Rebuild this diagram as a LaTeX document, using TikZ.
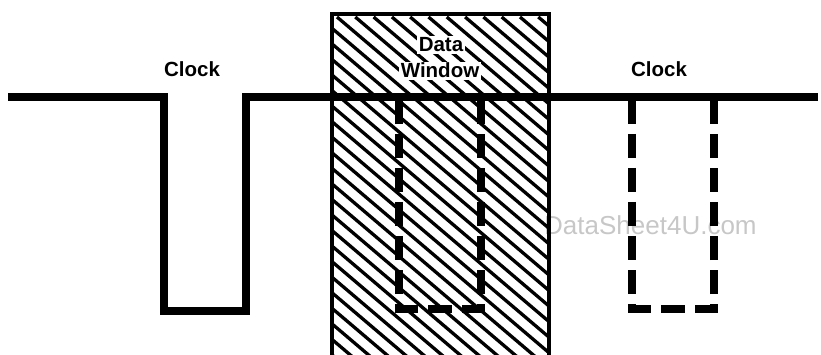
\documentclass[tikz,border=0pt]{standalone}
\usepackage{fontspec}
\setmainfont{Liberation Sans}

\tikzset{
    signal/.style={line width=8pt, line join=miter},
    ghost/.style={line width=8pt, dash pattern=on 24pt off 10pt, dash phase=31pt, line join=miter},
    hatch/.style={line width=3.3pt},
    label/.style={font=\fontsize{20.5}{23}\selectfont\bfseries, inner sep=1.5pt, anchor=base},
}

\begin{document}
\begin{tikzpicture}[x=1pt, y=-1pt]
        \useasboundingbox (0,0) rectangle (821,355);

        \node[text=black!22, font=\fontsize{26}{30}\selectfont, anchor=base west, inner sep=0pt] (wm) at (544,235) {DataSheet4U.com};

        \begin{scope}
            \clip (332,14) rectangle (549,360);
            \foreach \k in {-23,...,12}
                \draw[hatch] (337+18.3*\k,17) -- ++(500,425);
        \end{scope}
        \draw[line width=4pt] (332,360) -- (332,14) -- (549,14) -- (549,360);

        \node[label, fill=white] (data) at (441,52) {Data};
        \node[label, fill=white] (win) at (440,78) {Window};
        \node[label] (clk1) at (192,77) {Clock};
        \node[label] (clk2) at (659,77) {Clock};

        \draw[signal] (8,97) -- (164,97) -- (164,311) -- (246,311) -- (246,97) -- (818,97);

        \draw[ghost] (399,97) -- (399,309) -- (481,309) -- (481,97);
        \draw[ghost] (632,97) -- (632,309) -- (714,309) -- (714,97);
    \end{tikzpicture}
\end{document}
